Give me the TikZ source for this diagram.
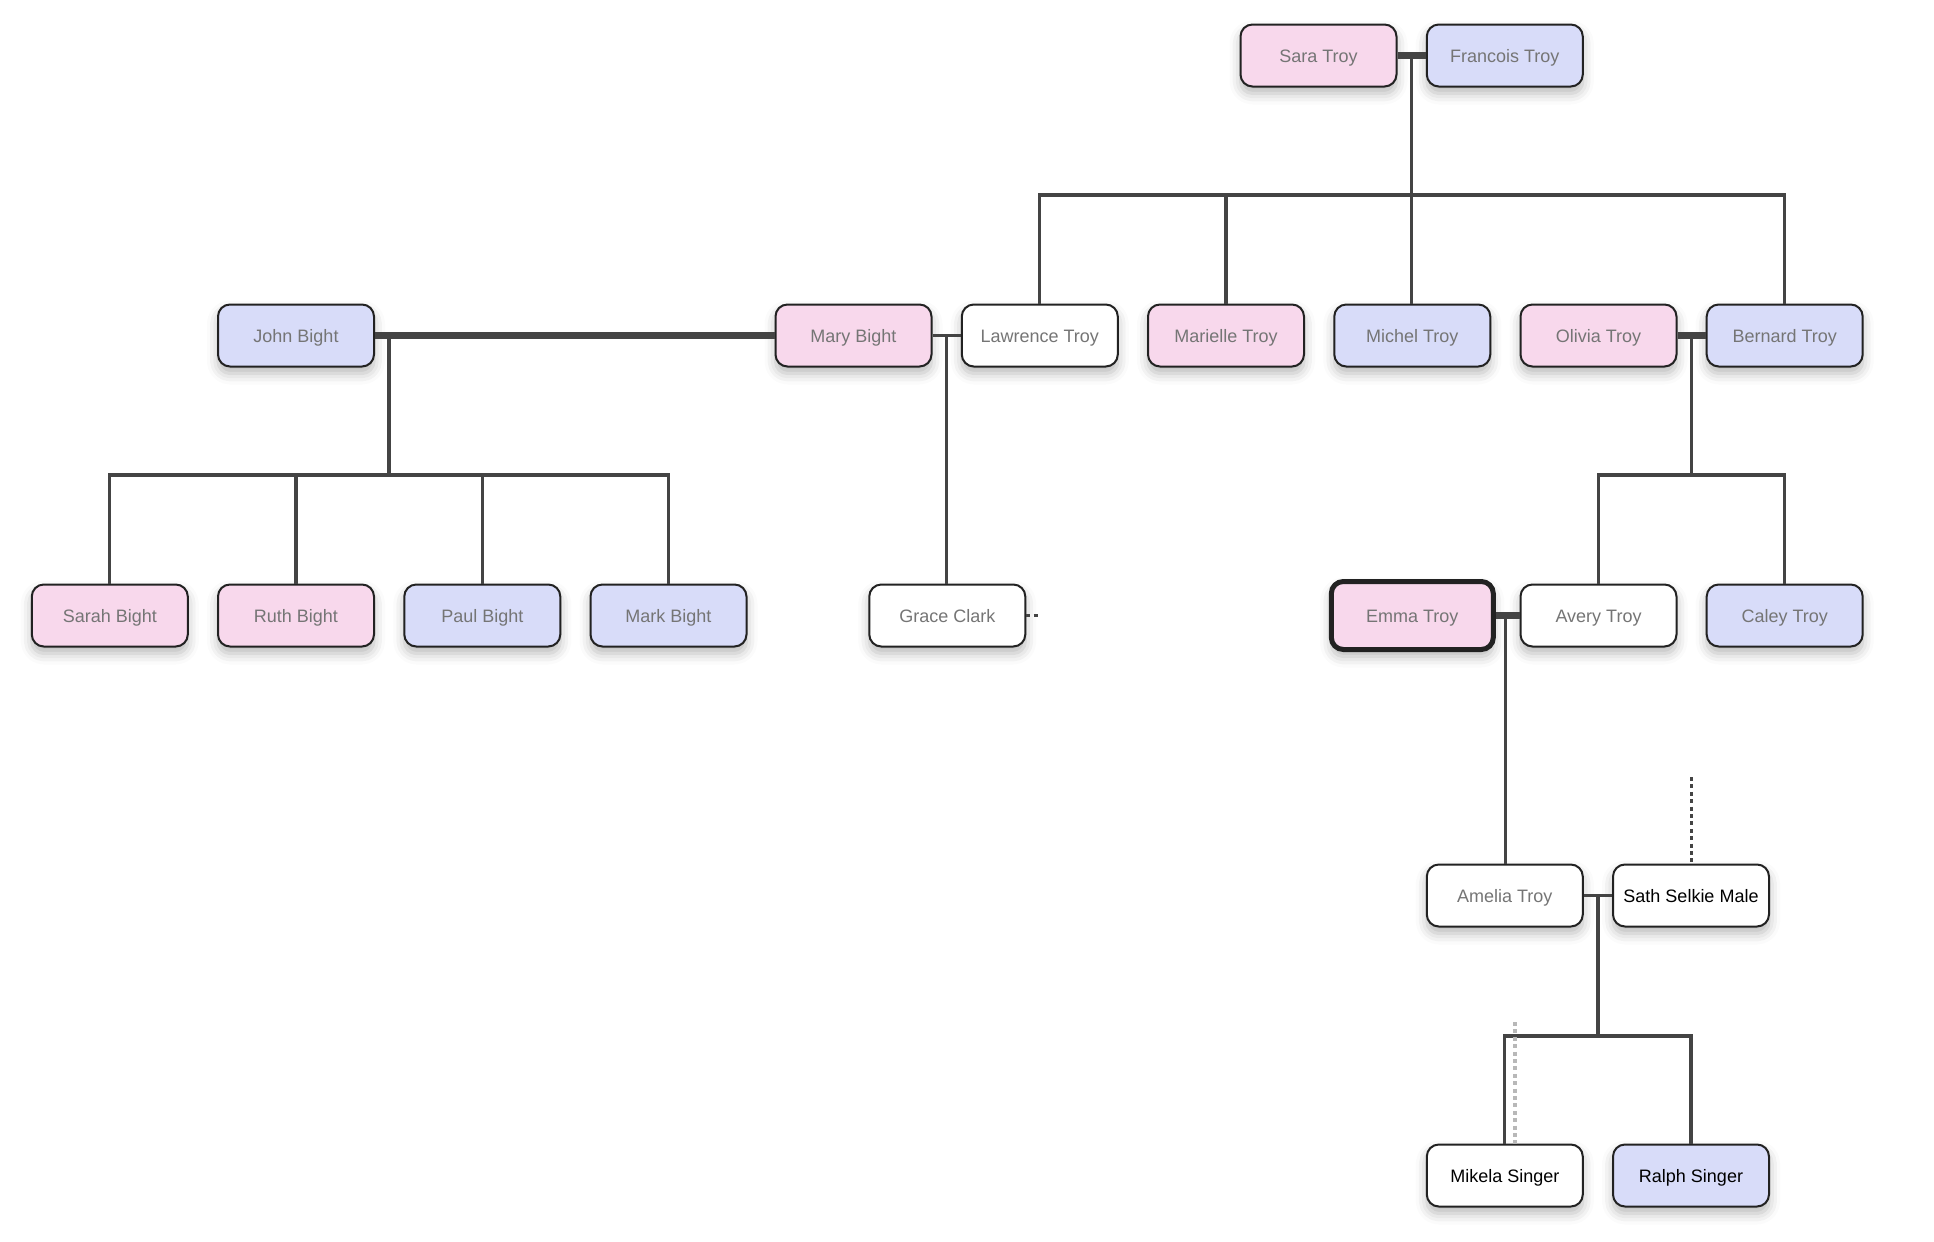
\documentclass[tikz,border=0pt]{standalone}
\usepackage{fontspec}
\setmainfont{Liberation Sans}
\usetikzlibrary{shadows.blur}
\definecolor{pinkf}{HTML}{F8D8EC}
\definecolor{bluef}{HTML}{D8DCF9}
\definecolor{linec}{HTML}{444444}
\definecolor{txtg}{HTML}{757575}
\definecolor{bord}{HTML}{222222}
\begin{document}
\begin{tikzpicture}[x=0.5pt,y=-0.5pt,
  person/.style={draw=bord, line width=1pt, rounded corners=6pt,
    minimum width=78pt, minimum height=31pt, inner sep=0pt,
    text height=6.6pt, text depth=0pt,
    font=\fontsize{9}{11}\selectfont, text=txtg,
    blur shadow={shadow xshift=0pt, shadow yshift=-3.5pt,
      shadow blur radius=5.5pt, shadow opacity=28}},
  fem/.style={person, fill=pinkf},
  mal/.style={person, fill=bluef},
  unk/.style={person, fill=white},
  dark/.style={text=black},
  focus/.style={line width=2.5pt, minimum width=81pt, minimum height=34pt},
  rel/.style={draw=linec, line width=1.6pt},
  couple/.style={draw=linec, line width=3.6pt},
  dotrel/.style={draw=linec, line width=1.5pt, dash pattern=on 2pt off 1.7pt},
  ghost/.style={draw=black!28, line width=2pt, dash pattern=on 2pt off 1.7pt}]
\useasboundingbox (0,0) rectangle (1934,1242);
% row 1
\node[fem] (sara) at (1318.5,55.5) {Sara Troy};
\node[mal] (francois) at (1504.8,55.5) {Francois Troy};
% row 2
\node[mal] (john) at (296,335.5) {John Bight};
\node[fem] (mary) at (853.5,335.5) {Mary Bight};
\node[unk] (lawrence) at (1039.8,335.5) {Lawrence Troy};
\node[fem] (marielle) at (1226,335.5) {Marielle Troy};
\node[mal] (michel) at (1412.3,335.5) {Michel Troy};
\node[fem] (olivia) at (1598.5,335.5) {Olivia Troy};
\node[mal] (bernard) at (1784.7,335.5) {Bernard Troy};
% row 3
\node[fem] (sarah) at (109.8,615.5) {Sarah Bight};
\node[fem] (ruth) at (296,615.5) {Ruth Bight};
\node[mal] (paul) at (482.3,615.5) {Paul Bight};
\node[mal] (mark) at (668.5,615.5) {Mark Bight};
\node[unk] (grace) at (947.3,615.5) {Grace Clark};
\node[fem,focus] (emma) at (1412.3,615.5) {Emma Troy};
\node[unk] (avery) at (1598.5,615.5) {Avery Troy};
\node[mal] (caley) at (1784.7,615.5) {Caley Troy};
% row 4
\node[unk] (amelia) at (1504.8,895.5) {Amelia Troy};
\node[unk,dark] (sath) at (1691,895.5) {Sath Selkie Male};
% row 5
\node[unk,dark] (mikela) at (1504.8,1175.5) {Mikela Singer};
\node[mal,dark] (ralph) at (1691,1175.5) {Ralph Singer};

% junction coordinates
\coordinate (tj) at (1411.6,55.5);
\coordinate (tb) at (1411.6,195);
\coordinate (jm) at (389,335.5);
\coordinate (jb) at (389,475);
\coordinate (ml) at (946.8,335.5);
\coordinate (ob) at (1691.6,335.5);
\coordinate (obb) at (1691.6,475);
\coordinate (ea) at (1505.5,615.5);
\coordinate (as) at (1598,895.5);
\coordinate (asb) at (1598,1036);
\coordinate (gend) at (1040,615.5);
\coordinate (sathup) at (1691,777);
\coordinate (mkup) at (1515,1022);

% Sara + Francois
\draw[couple] (sara.east) -- (francois.west);
\draw[rel] (tj) -- (tj |- michel.north);
\draw[rel] (lawrence.north) -- (lawrence.north |- tb) -- (bernard.north |- tb) -- (bernard.north);
\draw[rel] (marielle.north) -- (marielle.north |- tb);
% John + Mary
\draw[couple] (john.east) -- (mary.west);
\draw[rel] (jm) -- (jb);
\draw[rel] (sarah.north) -- (sarah.north |- jb) -- (mark.north |- jb) -- (mark.north);
\draw[rel] (ruth.north) -- (ruth.north |- jb);
\draw[rel] (paul.north) -- (paul.north |- jb);
% Mary + Lawrence
\draw[rel] (mary.east) -- (lawrence.west);
\draw[rel] (ml) -- (ml |- grace.north);
\draw[dotrel] (grace.east) -- (gend);
% Olivia + Bernard
\draw[couple] (olivia.east) -- (bernard.west);
\draw[rel] (ob) -- (obb);
\draw[rel] (avery.north) -- (avery.north |- obb) -- (caley.north |- obb) -- (caley.north);
% Emma + Avery
\draw[couple] (emma.east) -- (avery.west);
\draw[rel] (ea) -- (ea |- amelia.north);
% Amelia + Sath
\draw[rel] (amelia.east) -- (sath.west);
\draw[rel] (as) -- (asb);
\draw[rel] (mikela.north) -- (mikela.north |- asb) -- (ralph.north |- asb) -- (ralph.north);
\draw[dotrel] (sathup) -- (sath.north);
\draw[ghost] (mkup) -- (mkup |- mikela.north);
\end{tikzpicture}
\end{document}
